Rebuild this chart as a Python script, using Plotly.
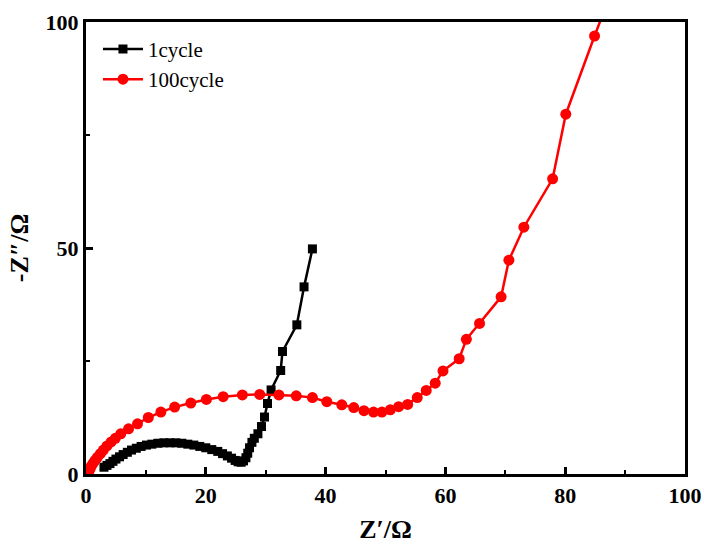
import plotly.graph_objects as go

# 1cycle (black squares)
c1_x = [3.0, 3.5, 4.0, 4.5, 5.0, 5.6, 6.2, 6.9, 7.6, 8.4, 9.2, 10.1, 11.0, 12.0, 13.0, 14.0,
        15.0, 16.0, 17.0, 18.0, 19.0, 20.0, 21.0, 22.0, 22.8, 23.6, 24.3, 24.9, 25.4, 25.9,
        26.3, 26.7, 27.0, 27.3, 27.7, 28.1, 28.7, 29.3, 29.8, 30.3, 30.9, 32.5, 32.8, 35.2,
        36.4, 37.8]
c1_y = [1.5, 1.9, 2.3, 2.8, 3.3, 3.8, 4.3, 4.8, 5.3, 5.7, 6.1, 6.4, 6.6, 6.8, 6.9, 6.9,
        6.9, 6.8, 6.6, 6.4, 6.1, 5.8, 5.4, 5.0, 4.5, 4.0, 3.5, 3.0, 2.7, 2.6,
        2.9, 3.6, 4.6, 5.8, 7.0, 7.9, 8.9, 10.5, 12.6, 15.6, 18.6, 22.9, 27.1, 33.0,
        41.4, 49.8]

# 100cycle (red circles)
c100_x = [0.4, 0.5, 0.7, 0.9, 1.2, 1.5, 1.9, 2.4, 2.9, 3.5, 4.2, 4.9, 5.8, 7.1, 8.6, 10.4,
          12.5, 14.8, 17.5, 20.1, 22.9, 26.1, 29.0, 32.2, 35.1, 37.8, 40.2, 42.7, 44.7,
          46.4, 48.0, 49.4, 50.8, 52.2, 53.7, 55.3, 56.8, 58.3, 59.6, 62.3, 63.5, 65.7,
          69.3, 70.6, 73.1, 77.9, 80.1, 84.9, 87.5]
c100_y = [0.2, 0.7, 1.2, 1.8, 2.4, 3.0, 3.7, 4.5, 5.3, 6.2, 7.1, 7.9, 8.9, 10.0, 11.1, 12.5,
          13.7, 14.8, 15.7, 16.5, 17.1, 17.5, 17.6, 17.5, 17.3, 16.9, 16.0, 15.3, 14.7,
          14.0, 13.7, 13.7, 14.2, 14.9, 15.4, 16.9, 18.5, 20.1, 22.8, 25.5, 29.8, 33.3,
          39.2, 47.3, 54.6, 65.3, 79.6, 96.9, 106.0]

x_ticks = [0, 20, 40, 60, 80, 100]
y_ticks = [0, 50, 100]

font_family = "Liberation Serif"

fig = go.Figure()
fig.add_trace(go.Scatter(
    x=c1_x, y=c1_y, mode="lines+markers", name="1cycle",
    line=dict(color="black", width=2.5),
    marker=dict(symbol="square", size=9, color="black"),
))
fig.add_trace(go.Scatter(
    x=c100_x, y=c100_y, mode="lines+markers", name="100cycle",
    line=dict(color="#ff0000", width=2.5),
    marker=dict(symbol="circle", size=11, color="#ff0000"),
))

fig.update_layout(
    width=704, height=544,
    margin=dict(l=86, r=19, t=22, b=70),
    plot_bgcolor="white", paper_bgcolor="white",
    font=dict(family=font_family, color="black"),
    showlegend=True,
    legend=dict(x=0.02, y=0.985, xanchor="left", yanchor="top",
                bgcolor="rgba(0,0,0,0)", font=dict(size=21, family=font_family),
                itemwidth=40, tracegroupgap=2),
    xaxis=dict(
        range=[0, 100], tickvals=x_ticks, ticktext=[str(v) for v in x_ticks],
        ticks="inside", ticklen=7, tickwidth=2.5, tickcolor="black",
        minor=dict(ticks="inside", ticklen=4, tickwidth=2, dtick=10, tickcolor="black"),
        showline=True, linewidth=3, linecolor="black", mirror=True,
        showgrid=False, zeroline=False, automargin=False,
        tickfont=dict(size=22, family=font_family, weight="bold"),
        title=dict(text="<b>Z′/Ω</b>", font=dict(size=26, family=font_family), standoff=16),
    ),
    yaxis=dict(
        range=[0, 100], tickvals=y_ticks, ticktext=[str(v) for v in y_ticks],
        ticks="inside", ticklen=7, tickwidth=2.5, tickcolor="black",
        minor=dict(ticks="inside", ticklen=4, tickwidth=2, dtick=25, tickcolor="black"),
        showline=True, linewidth=3, linecolor="black", mirror=True,
        showgrid=False, zeroline=False, automargin=False,
        tickfont=dict(size=22, family=font_family, weight="bold"),
        title=dict(text="<b>-Z″/Ω</b>", font=dict(size=26, family=font_family), standoff=10),
    ),
)

fig.write_html("out.html")
